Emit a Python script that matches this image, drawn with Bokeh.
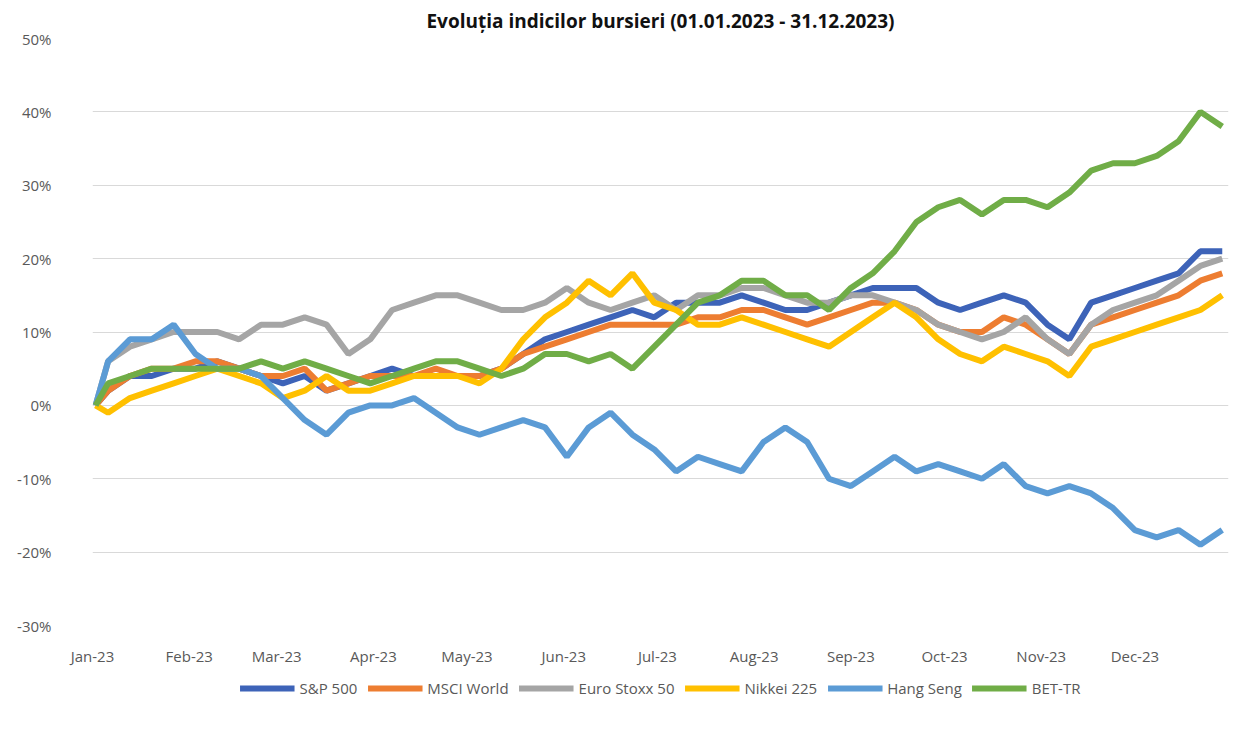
import pandas as pd
from bokeh.plotting import figure
from bokeh.layouts import column
from bokeh.models import (PrintfTickFormatter, DatetimeTickFormatter, MonthsTicker,
                          Legend, LegendItem, Range1d, SingleIntervalTicker)
from bokeh.embed import file_html
from bokeh.resources import INLINE

# weekly closes (Fridays), first point = 2 Jan 2023, values in % vs. start
dates = [pd.Timestamp("2023-01-02")] + list(pd.date_range("2023-01-06", "2023-12-29", freq="W-FRI"))

sp500 = [0, 2, 4, 4, 5, 5, 6, 5, 4, 3, 4, 2, 3, 4, 5, 4, 4, 4, 4, 5, 7, 9, 10, 11, 12, 13, 12,
         14, 14, 14, 15, 14, 13, 13, 14, 15, 16, 16, 16, 14, 13, 14, 15, 14, 11, 9, 14, 15, 16,
         17, 18, 21, 21]
msci = [0, 2, 4, 5, 5, 6, 6, 5, 4, 4, 5, 2, 3, 4, 4, 4, 5, 4, 4, 5, 7, 8, 9, 10, 11, 11, 11,
        11, 12, 12, 13, 13, 12, 11, 12, 13, 14, 14, 13, 11, 10, 10, 12, 11, 9, 7, 11, 12, 13,
        14, 15, 17, 18]
stoxx = [0, 6, 8, 9, 10, 10, 10, 9, 11, 11, 12, 11, 7, 9, 13, 14, 15, 15, 14, 13, 13, 14, 16,
         14, 13, 14, 15, 13, 15, 15, 16, 16, 15, 14, 14, 15, 15, 14, 13, 11, 10, 9, 10, 12, 9,
         7, 11, 13, 14, 15, 17, 19, 20]
nikkei = [0, -1, 1, 2, 3, 4, 5, 4, 3, 1, 2, 4, 2, 2, 3, 4, 4, 4, 3, 5, 9, 12, 14, 17, 15, 18,
          14, 13, 11, 11, 12, 11, 10, 9, 8, 10, 12, 14, 12, 9, 7, 6, 8, 7, 6, 4, 8, 9, 10, 11,
          12, 13, 15]
hang_seng = [0, 6, 9, 9, 11, 7, 5, 5, 4, 1, -2, -4, -1, 0, 0, 1, -1, -3, -4, -3, -2, -3, -7,
             -3, -1, -4, -6, -9, -7, -8, -9, -5, -3, -5, -10, -11, -9, -7, -9, -8, -9, -10, -8,
             -11, -12, -11, -12, -14, -17, -18, -17, -19, -17]
bet_tr = [0, 3, 4, 5, 5, 5, 5, 5, 6, 5, 6, 5, 4, 3, 4, 5, 6, 6, 5, 4, 5, 7, 7, 6, 7, 5, 8, 11,
          14, 15, 17, 17, 15, 15, 13, 16, 18, 21, 25, 27, 28, 26, 28, 28, 27, 29, 32, 33, 33,
          34, 36, 40, 38]

series = [("S&P 500", sp500, "#3D63B8"), ("MSCI World", msci, "#ED7D31"),
          ("Euro Stoxx 50", stoxx, "#A5A5A5"), ("Nikkei 225", nikkei, "#FFC000"),
          ("Hang Seng", hang_seng, "#5B9BD5"), ("BET-TR", bet_tr, "#70AD47")]

p = figure(width=1232, height=668, x_axis_type="datetime", output_backend="svg",
           toolbar_location=None, title="Evoluția indicilor bursieri (01.01.2023 - 31.12.2023)",
           x_range=Range1d(pd.Timestamp("2023-01-01"), pd.Timestamp("2023-12-31")),
           y_range=Range1d(-30, 50), min_border_left=92, min_border_right=4,
           min_border_top=0, min_border_bottom=0)
p.title.align = "center"
p.title.text_font = "Open Sans"
p.title.text_font_size = "19px"
p.title.text_color = "#111111"

for name, vals, col in series:
    p.line(dates, vals, line_color=col, line_width=6)

p.yaxis.ticker = SingleIntervalTicker(interval=10)
p.yaxis.formatter = PrintfTickFormatter(format="%d%%")
p.xaxis.ticker = MonthsTicker(months=list(range(12)))
p.xaxis.formatter = DatetimeTickFormatter(months="%b-%y", days="%b-%y")
for ax in (p.xaxis, p.yaxis):
    ax.axis_line_color = None
    ax.major_tick_line_color = None
    ax.minor_tick_line_color = None
    ax.major_label_text_font = "Open Sans"
    ax.major_label_text_font_size = "15px"
    ax.major_label_text_color = "#595959"
p.xaxis.major_label_standoff = 14
p.yaxis.major_label_standoff = 35
p.xgrid.grid_line_color = None
p.ygrid.grid_line_color = "#D9D9D9"
p.outline_line_color = None

# legend strip below the chart (proxy lines lie outside its visible range)
lg = figure(width=1232, height=40, output_backend="svg", toolbar_location=None,
            x_range=Range1d(0, 1), y_range=Range1d(0, 1), min_border=0)
lg.axis.visible = False
lg.grid.visible = False
lg.outline_line_color = None
items = []
for name, vals, col in series:
    r = lg.line([5, 6], [5, 6], line_color=col, line_width=6)
    items.append(LegendItem(label=name, renderers=[r]))
legend = Legend(items=items, orientation="horizontal", location="center",
                label_text_font="Open Sans", label_text_font_size="15px",
                label_text_color="#595959", glyph_width=55, spacing=10,
                border_line_color=None, padding=2, margin=0)
lg.add_layout(legend, "center")

open("out.html", "w").write(file_html(column(p, lg, spacing=0), INLINE))
